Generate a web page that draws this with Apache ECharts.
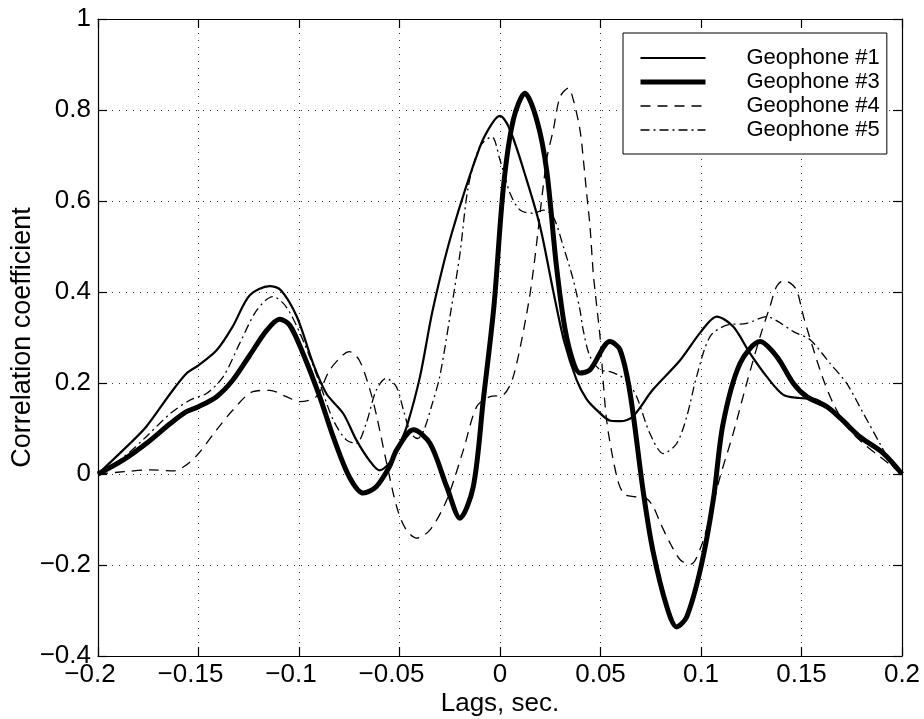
<!DOCTYPE html>
<html>
<head>
<meta charset="utf-8">
<script src="https://cdn.jsdelivr.net/npm/echarts@6/dist/echarts.min.js"></script>
<style>
html,body{margin:0;padding:0;background:#fff;}
#chart{width:924px;height:719px;}
</style>
</head>
<body>
<div id="chart"></div>
<script>
// ---- data (lag in seconds, correlation coefficient) ----
const seriesNames = ['Geophone #1', 'Geophone #3', 'Geophone #4', 'Geophone #5'];
const xTicks = [-0.2, -0.15, -0.1, -0.05, 0, 0.05, 0.1, 0.15, 0.2];
const yTicks = [-0.4, -0.2, 0, 0.2, 0.4, 0.6, 0.8, 1];

const geophone1 = [
  [-0.2,0],[-0.1874,0.053],[-0.176,0.104],[-0.164,0.177],[-0.156,0.221],[-0.15,0.239],
  [-0.141,0.272],[-0.133,0.324],[-0.1245,0.393],[-0.1146,0.413],[-0.109,0.404],[-0.101,0.345],
  [-0.093,0.243],[-0.0864,0.177],[-0.078,0.133],[-0.0715,0.075],[-0.065,0.03],[-0.06,0.008],
  [-0.054,0.03],[-0.05,0.065],[-0.0464,0.104],[-0.0398,0.214],[-0.0335,0.36],[-0.024,0.529],
  [-0.01,0.719],[-0.004,0.77],[0,0.787],[0.005,0.756],[0.0133,0.646],[0.02,0.543],
  [0.0264,0.404],[0.032,0.29],[0.0381,0.207],[0.043,0.165],[0.048,0.141],[0.055,0.117],
  [0.06,0.116],[0.066,0.126],[0.076,0.185],[0.0896,0.25],[0.1,0.313],[0.1078,0.346],
  [0.116,0.324],[0.1244,0.265],[0.1327,0.214],[0.141,0.174],[0.149,0.167],[0.1576,0.163],
  [0.166,0.134],[0.179,0.082],[0.1906,0.046],[0.2,0]
];
const geophone3 = [
  [-0.2,0],[-0.1874,0.031],[-0.176,0.067],[-0.164,0.111],[-0.156,0.137],[-0.15,0.148],
  [-0.141,0.17],[-0.133,0.206],[-0.1245,0.261],[-0.116,0.316],[-0.1096,0.34],[-0.1046,0.327],
  [-0.098,0.265],[-0.0897,0.17],[-0.083,0.082],[-0.075,-0.006],[-0.068,-0.042],[-0.0616,-0.028],
  [-0.055,0.016],[-0.0514,0.053],[-0.0431,0.097],[-0.0348,0.067],[-0.0265,-0.028],[-0.0199,-0.097],
  [-0.0133,-0.028],[-0.0083,0.163],[-0.003,0.37],[0.0017,0.631],[0.0066,0.778],[0.0124,0.837],
  [0.0183,0.778],[0.0232,0.668],[0.028,0.46],[0.0323,0.32],[0.0365,0.245],[0.0398,0.222],
  [0.0448,0.229],[0.0547,0.291],[0.0597,0.273],[0.0647,0.178],[0.0713,-0.04],[0.076,-0.167],
  [0.083,-0.292],[0.0879,-0.336],[0.0929,-0.314],[0.1,-0.204],[0.1061,-0.057],[0.111,0.111],
  [0.1194,0.243],[0.1294,0.291],[0.1377,0.258],[0.146,0.199],[0.1526,0.17],[0.1626,0.148],
  [0.17,0.12],[0.179,0.082],[0.1906,0.046],[0.2,0]
];
const geophone4 = [
  [-0.2,0],[-0.187,0.005],[-0.174,0.009],[-0.162,0.007],[-0.156,0.02],[-0.15,0.045],
  [-0.141,0.097],[-0.133,0.14],[-0.123,0.181],[-0.1146,0.184],[-0.1063,0.17],[-0.0997,0.159],
  [-0.0914,0.17],[-0.0848,0.228],[-0.078,0.262],[-0.075,0.269],[-0.07,0.25],[-0.0647,0.185],
  [-0.0613,0.126],[-0.0564,0.024],[-0.0514,-0.072],[-0.047,-0.12],[-0.0415,-0.141],[-0.0348,-0.123],
  [-0.0265,-0.057],[-0.0182,0.053],[-0.0116,0.148],[-0.005,0.17],[0.0016,0.174],[0.0066,0.214],
  [0.0133,0.353],[0.0166,0.448],[0.0232,0.69],[0.0265,0.756],[0.0299,0.829],[0.034,0.848],
  [0.0365,0.822],[0.0398,0.756],[0.0415,0.69],[0.0431,0.617],[0.0448,0.543],[0.0464,0.441],
  [0.0481,0.37],[0.0498,0.3],[0.0514,0.2],[0.053,0.12],[0.0555,0.05],[0.059,-0.02],
  [0.062,-0.045],[0.067,-0.05],[0.072,-0.052],[0.076,-0.07],[0.08,-0.11],[0.085,-0.155],
  [0.09,-0.19],[0.095,-0.198],[0.1,-0.16],[0.105,-0.085],[0.1095,-0.006],[0.116,0.089],
  [0.1227,0.199],[0.1294,0.302],[0.1343,0.368],[0.1376,0.412],[0.141,0.425],[0.1443,0.42],
  [0.1476,0.404],[0.151,0.346],[0.156,0.273],[0.1609,0.207],[0.1658,0.155],[0.1725,0.104],
  [0.1808,0.067],[0.189,0.038],[0.2,0]
];
const geophone5 = [
  [-0.2,0],[-0.187,0.038],[-0.176,0.082],[-0.164,0.133],[-0.154,0.163],[-0.146,0.177],
  [-0.1377,0.214],[-0.1295,0.287],[-0.121,0.36],[-0.113,0.39],[-0.1063,0.367],[-0.098,0.294],
  [-0.0897,0.199],[-0.083,0.119],[-0.0765,0.075],[-0.0715,0.067],[-0.0666,0.111],[-0.0616,0.184],
  [-0.0566,0.21],[-0.0516,0.192],[-0.048,0.14],[-0.0445,0.09],[-0.041,0.078],[-0.038,0.095],
  [-0.034,0.15],[-0.03,0.214],[-0.0249,0.346],[-0.0199,0.485],[-0.0158,0.631],[-0.01,0.72],
  [-0.0041,0.741],[0,0.69],[0.005,0.617],[0.01,0.58],[0.0166,0.573],[0.0216,0.58],
  [0.0265,0.565],[0.0315,0.5],[0.0365,0.426],[0.0398,0.36],[0.0414,0.316],[0.0448,0.258],
  [0.0498,0.229],[0.0547,0.225],[0.06,0.215],[0.064,0.2],[0.068,0.17],[0.0746,0.089],
  [0.0813,0.045],[0.0879,0.067],[0.0929,0.126],[0.0978,0.214],[0.1045,0.302],[0.1128,0.327],
  [0.1227,0.331],[0.1327,0.346],[0.138,0.336],[0.146,0.313],[0.1543,0.295],[0.1642,0.243],
  [0.1725,0.199],[0.1808,0.133],[0.189,0.067],[0.1956,0.016],[0.2,0]
];

// ---- chart ----
const FONT = "'Liberation Sans', Arial, Helvetica, sans-serif";
const numText = v => String(Math.round(v * 100) / 100).replace('-', '\u2212');
const xFmt = v => (v < -1e-9 ? '{neg|' + numText(v) + '}' : '{pos|' + numText(v) + '}');
const lineWidths = [2.2, 5, 1.3, 1.3];
const lineTypes = ['solid', 'solid', [10, 7], [9, 4, 2, 4]];
const seriesData = [geophone1, geophone3, geophone4, geophone5];

const baseAxis = {
  axisLine: { show: true, onZero: false, lineStyle: { color: '#000', width: 1.2 } },
  axisTick: { show: true, inside: true, length: 9, lineStyle: { color: '#000', width: 1.2 } },
  splitLine: { show: false }
};
const gridLine = { show: true, lineStyle: { color: '#333', width: 1, type: [1, 6] } };

const chart = echarts.init(document.getElementById('chart'), null, { renderer: 'canvas' });
chart.setOption({
  backgroundColor: '#fff',
  animation: false,
  textStyle: { fontFamily: FONT, color: '#000' },
  grid: { left: 98, right: 22, top: 19, bottom: 63, containLabel: false, outerBoundsMode: 'none' },
  legend: {
    data: seriesNames.map((n, i) => ({
      name: n,
      itemStyle: { color: 'rgba(0,0,0,0)', borderWidth: 0, opacity: 0 },
      lineStyle: { width: lineWidths[i], type: lineTypes[i], color: '#000' }
    })),
    selectedMode: false,
    orient: 'vertical',
    left: 623, top: 33,
    padding: [13, 7, 12, 15],
    itemWidth: 65, itemHeight: 14, itemGap: 0,
    borderColor: '#000', borderWidth: 1, backgroundColor: '#fff',
    textStyle: { fontFamily: FONT, fontSize: 22, lineHeight: 24, color: '#000', padding: [0, 0, 0, 36] }
  },
  xAxis: [
    Object.assign({}, baseAxis, {
      type: 'value', position: 'bottom', min: xTicks[0], max: xTicks[xTicks.length - 1], interval: 0.05,
      axisLabel: {
        show: true, margin: 6, fontSize: 26, color: '#000', fontFamily: FONT, formatter: xFmt,
        rich: {
          neg: { fontSize: 26, fontFamily: FONT, color: '#000', padding: [0, 16, 0, 0] },
          pos: { fontSize: 26, fontFamily: FONT, color: '#000' }
        }
      },
      splitLine: gridLine,
      name: 'Lags, sec.', nameLocation: 'middle', nameGap: 35, nameMoveOverlap: false,
      nameTextStyle: { fontSize: 26, color: '#000', fontFamily: FONT }
    }),
    Object.assign({}, baseAxis, {
      type: 'value', position: 'top', min: xTicks[0], max: xTicks[xTicks.length - 1], interval: 0.05,
      axisLabel: { show: false }
    })
  ],
  yAxis: [
    Object.assign({}, baseAxis, {
      type: 'value', position: 'left', min: yTicks[0], max: yTicks[yTicks.length - 1], interval: 0.2,
      axisLabel: { show: true, margin: 7, fontSize: 26, color: '#000', fontFamily: FONT, formatter: numText },
      splitLine: gridLine,
      name: 'Correlation coefficient', nameLocation: 'middle', nameGap: 62, nameMoveOverlap: false,
      nameTextStyle: { fontSize: 27, color: '#000', fontFamily: FONT }
    }),
    Object.assign({}, baseAxis, {
      type: 'value', position: 'right', min: yTicks[0], max: yTicks[yTicks.length - 1], interval: 0.2,
      axisLabel: { show: false }
    })
  ],
  series: seriesNames.map((n, i) => ({
    name: n, type: 'line', data: seriesData[i], symbol: 'none', showSymbol: false, smooth: 0.3,
    lineStyle: { color: '#000', width: lineWidths[i], type: lineTypes[i] },
    itemStyle: { color: '#000' }
  }))
});
</script>
</body>
</html>
